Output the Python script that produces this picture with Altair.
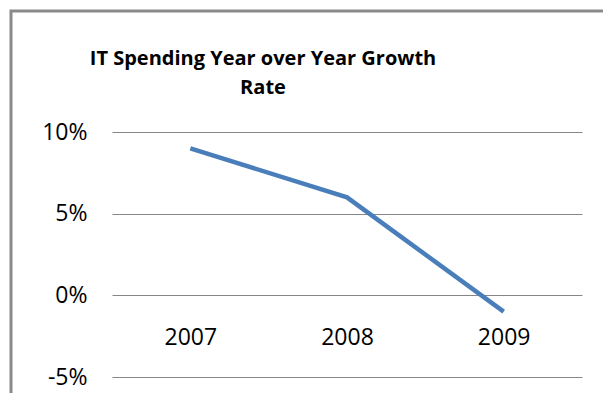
import altair as alt
import pandas as pd

years = ["2007", "2008", "2009"]
growth = [9.0, 6.0, -1.0]
y_ticks = [-5, 0, 5, 10]
title_lines = ["IT Spending Year over Year Growth", "Rate"]

df = pd.DataFrame({"year": years, "growth": growth})

FONT = "Open Sans"

line = alt.Chart(df).mark_line(color="#4a7ebb", strokeWidth=4.5).encode(
    x=alt.X(
        "year:N",
        sort=years,
        scale=alt.Scale(type="point", padding=0.5),
        axis=alt.Axis(
            title=None, domain=False, ticks=False, grid=False,
            labelAngle=0, labelFont=FONT, labelFontSize=23, labelColor="#000000",
            labelBaseline="middle", labelPadding=42, offset=-81.7,
        ),
    ),
    y=alt.Y(
        "growth:Q",
        scale=alt.Scale(domain=[-5, 10], nice=False, zero=False),
        axis=alt.Axis(
            title=None, values=y_ticks, domain=False, ticks=False,
            grid=True, gridColor="#868686", gridWidth=1.2,
            labelExpr="datum.value + '%'", labelFont=FONT, labelFontSize=23,
            labelColor="#000000", labelPadding=25,
        ),
    ),
)

frame = alt.Chart(pd.DataFrame({"k": [0]})).mark_rect(
    fill=None, stroke="#8a8a8a", strokeWidth=3
).encode(
    x=alt.value(-101), x2=alt.value(620),
    y=alt.value(-121), y2=alt.value(400),
)

chart = alt.layer(frame, line).properties(
    width=470,
    height=245,
    title=alt.TitleParams(
        text=title_lines, font=FONT, fontSize=20, fontWeight="bold",
        color="#000000", anchor="middle", frame="group", dx=-84,
        offset=-88, lineHeight=29,
    ),
    autosize=alt.AutoSizeParams(type="none"),
    padding={"left": 104, "top": 124, "right": 21, "bottom": 16},
).configure(
    background="#ffffff",
    view=alt.ViewConfig(strokeWidth=0, stroke="transparent"),
)

chart.save("out.html", embed_options={"renderer": "svg", "actions": False})
